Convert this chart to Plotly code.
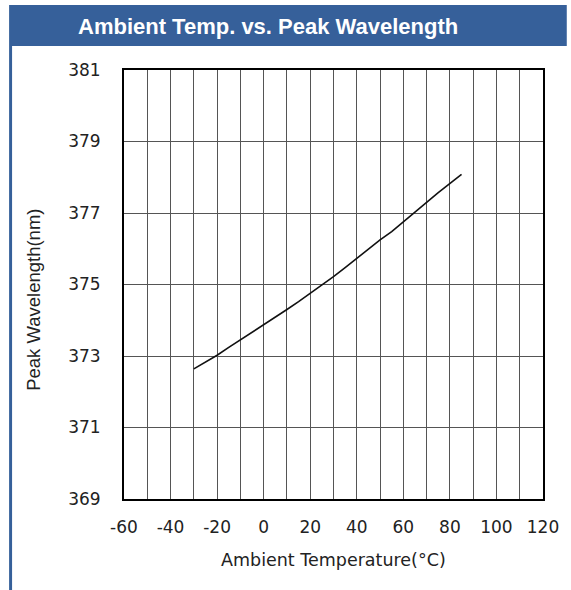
import plotly.graph_objects as go

# Data
temp_c = [-30, -25, -20, -15, -10, -5, 0, 5, 10, 15, 20, 25, 30, 35, 40, 45, 50, 55, 60, 65, 70, 75, 80, 85]
peak_nm = [372.64, 372.83, 373.02, 373.24, 373.45, 373.65, 373.87, 374.08, 374.30, 374.52, 374.75, 374.98,
           375.22, 375.47, 375.73, 375.98, 376.25, 376.48, 376.76, 377.04, 377.30, 377.57, 377.83, 378.08]

x_ticks = [-60, -40, -20, 0, 20, 40, 60, 80, 100, 120]
x_tick_labels = ["-60", "-40", "-20", "0", "20", "40", "60", "80", "100", "120"]
y_ticks = [369, 371, 373, 375, 377, 379, 381]
y_tick_labels = ["369", "371", "373", "375", "377", "379", "381"]

title_text = "Ambient Temp. vs. Peak Wavelength"
x_title = "Ambient Temperature(°C)"
y_title = "Peak Wavelength(nm)"

W, H = 571, 590
L, R, T, B = 124, 24, 70, 91
pw, ph = W - L - R, H - T - B

def px(xp):
    return (xp - L) / pw

def py(yp):
    return (H - B - yp) / ph

blue = "#36609A"
grid = "#555555"

fig = go.Figure()
fig.add_trace(go.Scatter(x=temp_c, y=peak_nm, mode="lines",
                         line=dict(color="#111111", width=1.6), showlegend=False))

fig.update_layout(
    width=W, height=H,
    margin=dict(l=L, r=R, t=T, b=B),
    paper_bgcolor="white", plot_bgcolor="white",
    font=dict(family="DejaVu Sans", size=17, color="#222222"),
    xaxis=dict(range=[-60, 120], tickvals=x_ticks, ticktext=x_tick_labels,
               showgrid=True, gridcolor=grid, gridwidth=1,
               minor=dict(dtick=10, tick0=0, showgrid=True, gridcolor=grid, gridwidth=1),
               showline=True, mirror=True, linecolor="black", linewidth=2,
               zeroline=False, ticks="outside", ticklen=12, tickcolor="rgba(0,0,0,0)",
               tickfont=dict(family="DejaVu Sans", size=17, color="#222222")),
    yaxis=dict(range=[369, 381], tickvals=y_ticks, ticktext=y_tick_labels,
               showgrid=True, gridcolor=grid, gridwidth=1,
               showline=True, mirror=True, linecolor="black", linewidth=2,
               zeroline=False, ticks="outside", ticklen=18, tickcolor="rgba(0,0,0,0)",
               tickfont=dict(family="DejaVu Sans", size=17, color="#222222")),
    shapes=[
        dict(type="rect", xref="paper", yref="paper", x0=px(8), x1=px(571), y0=py(46), y1=py(5),
             fillcolor=blue, line=dict(width=0), layer="above"),
        dict(type="rect", xref="paper", yref="paper", x0=px(8), x1=px(11), y0=py(590), y1=py(46),
             fillcolor=blue, line=dict(width=0), layer="above"),
    ],
    annotations=[
        dict(text="<b>" + title_text + "</b>", xref="paper", yref="paper", x=px(269), y=py(27),
             xanchor="center", yanchor="middle", showarrow=False,
             font=dict(family="Liberation Sans", size=22, color="white")),
        dict(text=x_title, xref="paper", yref="paper", x=0.5, y=py(560),
             xanchor="center", yanchor="middle", showarrow=False,
             font=dict(family="DejaVu Sans", size=17.5, color="#222222")),
        dict(text=y_title, xref="paper", yref="paper", x=px(32), y=py(300), textangle=-90,
             xanchor="center", yanchor="middle", showarrow=False,
             font=dict(family="Liberation Sans", size=18.5, color="#222222")),
    ],
)

fig.write_html("out.html")
